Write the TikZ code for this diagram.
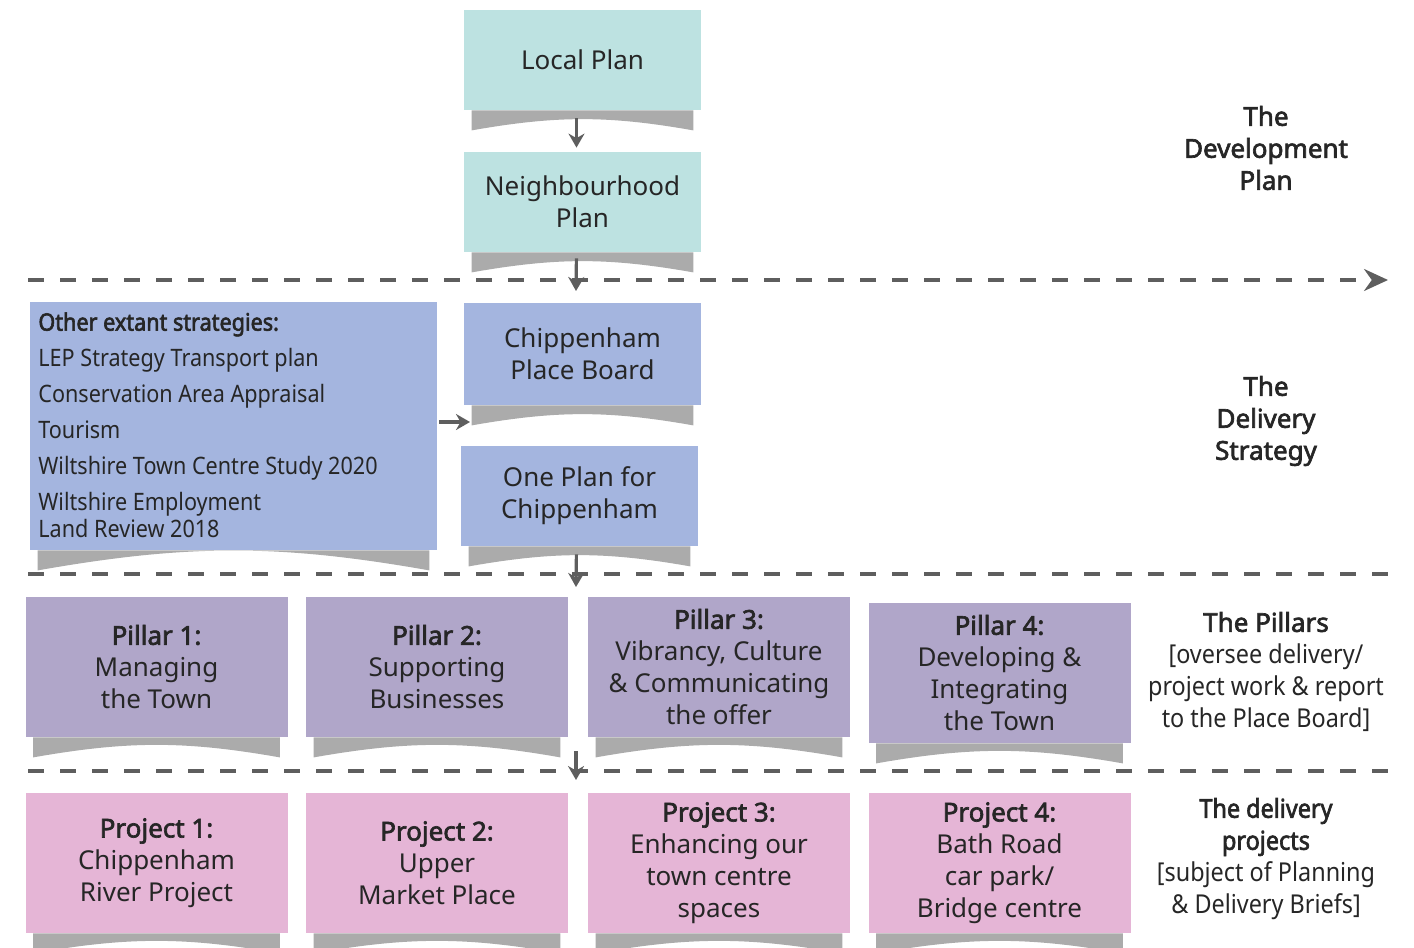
\documentclass[tikz,border=0pt]{standalone}
\usepackage{fontspec}
\setmainfont{Noto Sans}[AutoFakeBold=2.5]
\newfontfamily\narrowfont{Noto Sans}[FakeStretch=0.9,AutoFakeBold=2.5]
\usetikzlibrary{positioning,calc,arrows.meta}

\definecolor{devplan}{HTML}{BDE2E1}
\definecolor{delivery}{HTML}{A4B5DF}
\definecolor{pillar}{HTML}{B0A6C9}
\definecolor{project}{HTML}{E5B5D6}
\definecolor{inkgray}{HTML}{262626}
\definecolor{linegray}{HTML}{5E5E5E}

% curled shadow under a box
\newcommand\curl[1]{%
  \fill[black!33]
    ($(#1.south west)+(8,0)$) -- ($(#1.south east)+(-8,0)$) -- ++(0,20)
    to[bend right=10] ($(#1.south west)+(8,20)$) -- cycle;}

\begin{document}
\begin{tikzpicture}[x=0.5pt,y=-0.5pt,
    font=\fontsize{13}{16}\selectfont,text=inkgray,
    box/.style={minimum width=118.5pt,minimum height=50pt,align=center,inner sep=0pt},
    pillarbox/.style={box,fill=pillar,minimum width=131pt,minimum height=70pt},
    projbox/.style={box,fill=project,minimum width=131pt,minimum height=70pt},
    side/.style={align=center,inner sep=0pt},
    arr/.style={linegray,line width=1.6pt,-{Stealth[length=7pt,width=8pt]}},
    sep/.style={linegray,line width=1.6pt,dash pattern=on 8pt off 8pt}]
  \useasboundingbox (0,0) rectangle (1414,948);

  \node[box,fill=devplan] (lp) at (582.5,60) {Local Plan};
  \node[box,fill=devplan] (nb) at (582.5,202) {Neighbourhood\\Plan};

  \node[box,fill=delivery,minimum width=203.5pt,minimum height=124pt] (ost) at (233.5,426) {};
  \node[anchor=north west,align=left,inner sep=0pt,
        font=\narrowfont\fontsize{12}{13.5}\selectfont] (ostlist) at (38,312)
    {{\bfseries Other extant strategies:}\\[4.5pt]
     LEP Strategy Transport plan\\[4.5pt]
     Conservation Area Appraisal\\[4.5pt]
     Tourism\\[4.5pt]
     Wiltshire Town Centre Study 2020\\[4.5pt]
     Wiltshire Employment\\
     Land Review 2018};
  \node[box,fill=delivery,minimum height=51pt] (pb) at (582.5,354) {Chippenham\\Place Board};
  \node[box,fill=delivery] (op) at (579.5,496) {One Plan for\\Chippenham};

  \node[pillarbox] (p1) at (156.5,667) {{\bfseries Pillar 1:}\\Managing\\the Town};
  \node[pillarbox] (p2) at (437,667) {{\bfseries Pillar 2:}\\Supporting\\Businesses};
  \node[pillarbox] (p3) at (719,667) {{\bfseries Pillar 3:}\\Vibrancy, Culture\\\& Communicating\\the offer};
  \node[pillarbox] (p4) at (999.5,673) {{\bfseries Pillar 4:}\\Developing \&\\Integrating\\the Town};

  \node[projbox] (j1) at (156.5,863) {{\bfseries Project 1:}\\Chippenham\\River Project};
  \node[projbox] (j2) at (437,863) {{\bfseries Project 2:}\\Upper\\Market Place};
  \node[projbox] (j3) at (719,863) {{\bfseries Project 3:}\\Enhancing our\\town centre\\spaces};
  \node[projbox] (j4) at (999.5,863) {{\bfseries Project 4:}\\Bath Road\\car park/\\Bridge centre};

  \foreach \b in {lp,nb,ost,pb,op,p1,p2,p3,p4,j1,j2,j3,j4}
    \curl{\b};

  \node[side,font=\bfseries\fontsize{13}{16}\selectfont] (devlbl) at (1266,148) {The\\Development\\Plan};
  \node[side,font=\bfseries\fontsize{13}{16}\selectfont] (dellbl) at (1266,421) {The\\Delivery\\Strategy};
  \node[side] (pillbl) at (1266,672) {{\bfseries The Pillars}\\
    {\narrowfont [oversee delivery/}\\{\narrowfont project work \& report}\\{\narrowfont to the Place Board]}};
  \node[side,font=\narrowfont\fontsize{13}{16}\selectfont] (projlbl) at (1266,859) {{\bfseries The delivery}\\
    {\bfseries projects}\\{}[subject of Planning\\\& Delivery Briefs]};

  % section lines
  \coordinate (s1l) at (28,280);
  \coordinate (s1r) at (1388,280);
  \coordinate (s2l) at (28,574);
  \coordinate (s2r) at (1388,574);
  \coordinate (s3l) at (28,771);
  \coordinate (s3r) at (1388,771);
  \draw[sep,-{Stealth[length=12pt,width=11pt]}] (s1l) -- (s1r);
  \draw[sep] (s2l) -- (s2r);
  \draw[sep] (s3l) -- (s3r);

  \coordinate (a2) at (576,291);
  \coordinate (a3) at (470,422);
  \coordinate (a4) at (576,587);
  \coordinate (a5s) at (576,751);
  \coordinate (a5e) at (576,780);
  \draw[arr,shorten <=4pt,shorten >=2pt] ([xshift=-3pt]lp.south) -- ([xshift=-3pt]nb.north);
  \draw[arr,shorten <=3pt] ([xshift=-3pt]nb.south) -- (a2);
  \draw[arr,shorten <=1pt] ([yshift=2pt]ost.east) -- (a3);
  \draw[arr,shorten <=4pt] ([xshift=-1.5pt]op.south) -- (a4);
  \draw[arr] (a5s) -- (a5e);
\end{tikzpicture}
\end{document}
